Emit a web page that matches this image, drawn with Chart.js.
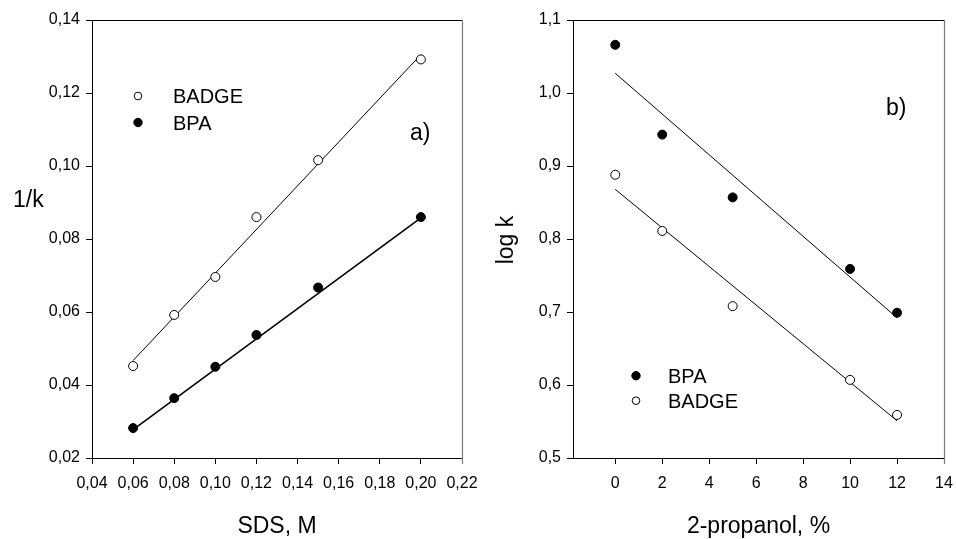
<!DOCTYPE html>
<html>
<head>
<meta charset="utf-8">
<script src="https://cdn.jsdelivr.net/npm/chart.js@4.4.1/dist/chart.umd.min.js"></script>
<style>
  html, body { margin: 0; padding: 0; background: #fff; }
  #wrap { position: relative; width: 956px; height: 539px; overflow: hidden; background: #fff; }
  .pane { position: absolute; top: 0; width: 478px; height: 539px; }
  #paneA { left: 0; }
  #paneB { left: 478px; }
</style>
</head>
<body>
<div id="wrap">
  <div class="pane" id="paneA"><canvas id="chartA" width="478" height="539"></canvas></div>
  <div class="pane" id="paneB"><canvas id="chartB" width="478" height="539"></canvas></div>
</div>
<script>
// ---- Panel a) data ----
const sdsConc   = [0.06, 0.08, 0.10, 0.12, 0.15, 0.20];
const badgeInvK = [0.0452, 0.0592, 0.0696, 0.0860, 0.1016, 0.1292];
const bpaInvK   = [0.0282, 0.0364, 0.0450, 0.0537, 0.0667, 0.0860];
const fitXA     = [0.06, 0.20];
const badgeFitA = [0.0467, 0.1305];
const bpaFitA   = [0.0278, 0.0858];
const xTicksA   = [0.04, 0.06, 0.08, 0.10, 0.12, 0.14, 0.16, 0.18, 0.20, 0.22];
const yTicksA   = [0.02, 0.04, 0.06, 0.08, 0.10, 0.12, 0.14];

// ---- Panel b) data ----
const propanol  = [0, 2, 5, 10, 12];
const bpaLogK   = [1.066, 0.943, 0.857, 0.759, 0.699];
const badgeLogK = [0.888, 0.811, 0.708, 0.607, 0.559];
const fitXB     = [0, 12];
const bpaFitB   = [1.027, 0.692];
const badgeFitB = [0.868, 0.551];
const xTicksB   = [0, 2, 4, 6, 8, 10, 12, 14];
const yTicksB   = [0.5, 0.6, 0.7, 0.8, 0.9, 1.0, 1.1];

const FONT = "'Liberation Sans', Arial, sans-serif";

function pts(xs, ys) { return xs.map((x, i) => ({ x: x, y: ys[i] })); }

function frameAndText(cfg) {
  return {
    id: 'frameText',
    afterDraw(chart) {
      const ctx = chart.ctx;
      const a = chart.chartArea;
      ctx.save();
      ctx.lineWidth = 1;
      ctx.strokeStyle = '#000';
      ctx.beginPath();
      ctx.moveTo(Math.round(a.left) , Math.round(a.top) + 0.5);
      ctx.lineTo(Math.round(a.right) + 0.5, Math.round(a.top) + 0.5);
      ctx.stroke();
      ctx.strokeStyle = '#7a7a7a';
      ctx.lineWidth = 1.2;
      ctx.beginPath();
      ctx.moveTo(Math.round(a.right) + 0.5, Math.round(a.top));
      ctx.lineTo(Math.round(a.right) + 0.5, Math.round(a.bottom) + 6);
      ctx.stroke();

      ctx.fillStyle = '#000';
      ctx.textBaseline = 'alphabetic';
      // legend
      cfg.legend.forEach(item => {
        ctx.beginPath();
        ctx.arc(item.mx, item.my, item.r, 0, Math.PI * 2);
        ctx.fillStyle = item.filled ? '#000' : '#fff';
        ctx.fill();
        ctx.lineWidth = 1;
        ctx.strokeStyle = '#000';
        ctx.stroke();
        ctx.fillStyle = '#000';
        ctx.font = '20px ' + FONT;
        ctx.textAlign = 'left';
        ctx.fillText(item.text, item.tx, item.ty);
      });
      // panel label
      ctx.font = '23px ' + FONT;
      ctx.textAlign = 'left';
      ctx.fillText(cfg.panel.text, cfg.panel.x, cfg.panel.y);
      // x title
      ctx.textAlign = 'center';
      ctx.fillText(cfg.xTitle, (a.left + a.right) / 2, cfg.xTitleY);
      // y title
      if (cfg.yRotate) {
        ctx.save();
        ctx.translate(cfg.yTitleX, cfg.yTitleY);
        ctx.rotate(-Math.PI / 2);
        ctx.textAlign = 'center';
        ctx.fillText(cfg.yTitle, 0, 0);
        ctx.restore();
      } else {
        ctx.textAlign = 'left';
        ctx.fillText(cfg.yTitle, cfg.yTitleX, cfg.yTitleY);
      }
      ctx.restore();
    }
  };
}

function makeChart(canvasId, opt) {
  return new Chart(document.getElementById(canvasId), {
    type: 'scatter',
    data: { datasets: opt.datasets },
    options: {
      responsive: false,
      animation: false,
      devicePixelRatio: 1,
      layout: { padding: { left: 0, top: 20, right: opt.padRight, bottom: 0 } },
      plugins: { legend: { display: false }, tooltip: { enabled: false } },
      scales: {
        x: {
          type: 'linear',
          min: opt.xMin, max: opt.xMax,
          afterBuildTicks: s => { s.ticks = opt.xTicks.map(v => ({ value: v })); },
          afterFit: s => { s.height = 81; s.paddingLeft = 0; s.paddingRight = 0; },
          grid: { display: true, drawOnChartArea: false, drawTicks: true, tickLength: 6, color: '#000', lineWidth: 1 },
          border: { display: true, color: '#000', width: 1 },
          ticks: { color: '#000', font: { family: FONT, size: 16 }, padding: 10, maxRotation: 0, autoSkip: false,
                   callback: opt.xFmt }
        },
        y: {
          type: 'linear',
          min: opt.yMin, max: opt.yMax,
          afterBuildTicks: s => { s.ticks = opt.yTicks.map(v => ({ value: v })); },
          afterFit: s => { s.width = opt.yWidth; s.paddingTop = 0; s.paddingBottom = 0; },
          grid: { display: true, drawOnChartArea: false, drawTicks: true, tickLength: 6, color: '#000', lineWidth: 1 },
          border: { display: true, color: '#000', width: 1 },
          ticks: { color: '#000', font: { family: FONT, size: 16 }, padding: 6, autoSkip: false,
                   callback: opt.yFmt }
        }
      }
    },
    plugins: [frameAndText(opt.deco)]
  });
}

function lineDs(xs, ys, w) {
  return { type: 'line', data: pts(xs, ys), borderColor: '#000', borderWidth: w, pointRadius: 0, fill: false, order: 2, tension: 0 };
}
function pointDs(xs, ys, filled) {
  return { type: 'scatter', data: pts(xs, ys), pointRadius: 4.5, pointStyle: 'circle',
           backgroundColor: filled ? '#000' : '#fff', borderColor: '#000', borderWidth: 1, order: 1 };
}

makeChart('chartA', {
  datasets: [
    lineDs(fitXA, badgeFitA, 1),
    lineDs(fitXA, bpaFitA, 1.6),
    pointDs(sdsConc, badgeInvK, false),
    pointDs(sdsConc, bpaInvK, true)
  ],
  xMin: 0.04, xMax: 0.22, yMin: 0.02, yMax: 0.14,
  xTicks: xTicksA, yTicks: yTicksA,
  xFmt: v => v.toFixed(2).replace('.', ','),
  yFmt: v => v.toFixed(2).replace('.', ','),
  yWidth: 92, padRight: 16,
  deco: {
    legend: [
      { mx: 138, my: 96, r: 3.8, filled: false, text: 'BADGE', tx: 173, ty: 103 },
      { mx: 138, my: 122.5, r: 4.2, filled: true, text: 'BPA', tx: 173, ty: 129.5 }
    ],
    panel: { text: 'a)', x: 410, y: 140 },
    xTitle: 'SDS, M', xTitleY: 533,
    yTitle: '1/k', yRotate: false, yTitleX: 13, yTitleY: 207
  }
});

makeChart('chartB', {
  datasets: [
    lineDs(fitXB, bpaFitB, 1),
    lineDs(fitXB, badgeFitB, 1),
    pointDs(propanol, bpaLogK, true),
    pointDs(propanol, badgeLogK, false)
  ],
  xMin: -1.8, xMax: 14, yMin: 0.5, yMax: 1.1,
  xTicks: xTicksB, yTicks: yTicksB,
  xFmt: v => String(Math.round(v)),
  yFmt: v => v.toFixed(1).replace('.', ','),
  yWidth: 95, padRight: 12,
  deco: {
    legend: [
      { mx: 158, my: 375.7, r: 4.2, filled: true, text: 'BPA', tx: 190, ty: 383 },
      { mx: 158, my: 400.7, r: 3.8, filled: false, text: 'BADGE', tx: 190, ty: 407.5 }
    ],
    panel: { text: 'b)', x: 408, y: 115 },
    xTitle: '2-propanol, %', xTitleY: 533,
    yTitle: 'log k', yRotate: true, yTitleX: 35, yTitleY: 240
  }
});
</script>
</body>
</html>
